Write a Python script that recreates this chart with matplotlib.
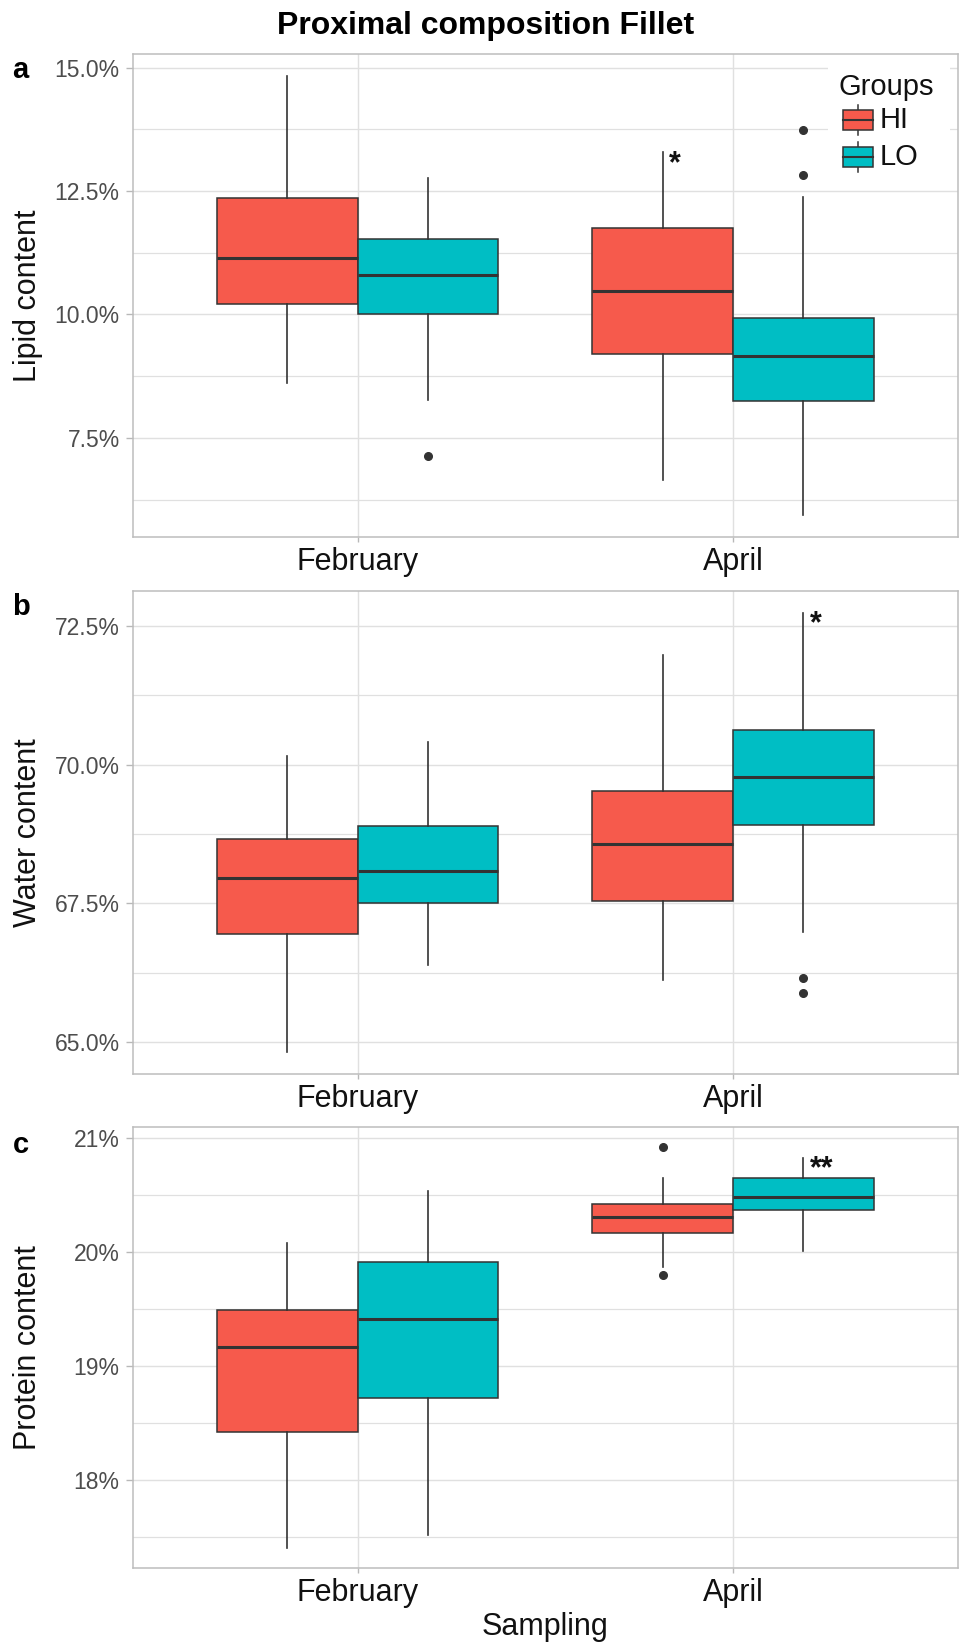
import matplotlib
matplotlib.use("Agg")
import matplotlib.pyplot as plt
from matplotlib.patches import Rectangle
from matplotlib.lines import Line2D
from matplotlib.ticker import MultipleLocator, PercentFormatter

plt.rcParams['font.family'] = ['Liberation Sans', 'DejaVu Sans']

# ---- data -------------------------------------------------------------
months = ["February", "April"]
groups = ["HI", "LO"]
group_colors = ["#F65A4C", "#00BEC4"]

# order of boxes: February-HI, February-LO, April-HI, April-LO
lipid_whislo = [8.62, 8.27, 6.64, 5.93]
lipid_q1 = [10.21, 10.00, 9.19, 8.25]
lipid_med = [11.14, 10.79, 10.48, 9.15]
lipid_q3 = [12.35, 11.52, 11.75, 9.93]
lipid_whishi = [14.83, 12.77, 13.28, 12.38]
lipid_fliers = [[], [7.14], [], [13.73, 12.82]]
lipid_marks = ["", "", "*", ""]

water_whislo = [64.82, 66.38, 66.12, 66.99]
water_q1 = [66.95, 67.50, 67.55, 68.92]
water_med = [67.95, 68.09, 68.57, 69.78]
water_q3 = [68.66, 68.90, 69.52, 70.63]
water_whishi = [70.15, 70.41, 71.98, 72.74]
water_fliers = [[], [], [], [66.15, 65.89]]
water_marks = ["", "", "", "*"]

protein_whislo = [17.40, 17.52, 19.87, 20.01]
protein_q1 = [18.42, 18.72, 20.17, 20.37]
protein_med = [19.17, 19.415, 20.31, 20.485]
protein_q3 = [19.49, 19.915, 20.42, 20.65]
protein_whishi = [20.08, 20.54, 20.65, 20.83]
protein_fliers = [[], [], [20.92, 19.80], []]
protein_marks = ["", "", "", "**"]

# ---- figure layout (pixel based) --------------------------------------
W, H = 959, 1645
fig = plt.figure(figsize=(W / 100, H / 100), dpi=100)


def fx(x):
    return x / W


def fy(y):
    return 1 - y / H


def add_axes_px(left, top, right, bottom):
    return fig.add_axes([fx(left), fy(bottom), (right - left) / W, (bottom - top) / H])


ax_a = add_axes_px(132.7, 54.0, 958.0, 537.3)
ax_b = add_axes_px(132.7, 590.7, 958.0, 1074.0)
ax_c = add_axes_px(132.7, 1127.3, 958.0, 1568.3)

INK = "#333333"
BOX_W = 0.375


def draw_panel(ax, whislo, q1, med, q3, whishi, fliers, marks, ylabel, step, decimals):
    positions = []
    colors = []
    for m in range(len(months)):
        for g in range(len(groups)):
            positions.append(m + 1 + (g - 0.5) * BOX_W)
            colors.append(group_colors[g])
    stats = []
    for i in range(len(positions)):
        stats.append(dict(whislo=whislo[i], q1=q1[i], med=med[i], q3=q3[i],
                          whishi=whishi[i], fliers=fliers[i]))
    bp = ax.bxp(stats, positions=positions, widths=BOX_W, patch_artist=True,
                showcaps=False, manage_ticks=False,
                boxprops=dict(edgecolor=INK, linewidth=1.1),
                whiskerprops=dict(color=INK, linewidth=1.2),
                medianprops=dict(color=INK, linewidth=2.2),
                flierprops=dict(marker='o', markerfacecolor=INK, markeredgecolor=INK,
                                markersize=5.5, linestyle='none'))
    for patch, c in zip(bp['boxes'], colors):
        patch.set_facecolor(c)

    for pos, top, mk in zip(positions, whishi, marks):
        if mk:
            ax.annotate(mk, xy=(pos, top), xytext=(4.5, 2.2), textcoords='offset points',
                        ha='left', va='top', fontsize=22, fontweight='bold', color='#111111')

    lo = min(min(whislo), min([min(f) for f in fliers if f] or [min(whislo)]))
    hi = max(max(whishi), max([max(f) for f in fliers if f] or [max(whishi)]))
    pad = 0.05 * (hi - lo)
    ax.set_ylim(lo - pad, hi + pad)
    ax.set_xlim(0.4, 2.6)

    ax.set_xticks([1, 2])
    ax.set_xticklabels(months)
    ax.yaxis.set_major_locator(MultipleLocator(step))
    ax.yaxis.set_minor_locator(MultipleLocator(step / 2))
    ax.yaxis.set_major_formatter(PercentFormatter(xmax=100, decimals=decimals))

    ax.set_axisbelow(True)
    ax.grid(which='major', color='#E0E0E0', linewidth=1.0)
    ax.grid(which='minor', axis='y', color='#E0E0E0', linewidth=0.9)

    ax.tick_params(axis='y', which='major', length=4.8, width=1.0, color='#B8B8B8',
                   pad=4.6, labelsize=16.5, labelcolor='#4D4D4D')
    ax.tick_params(axis='x', which='major', length=3.5, width=1.0, color='#B8B8B8',
                   pad=3.8, labelsize=22, labelcolor='#111111')
    ax.tick_params(which='minor', length=0)
    for s in ax.spines.values():
        s.set_color('#BDBDBD')
        s.set_linewidth(1.1)

    ax.set_ylabel(ylabel, fontsize=22, color='#111111')
    ax.yaxis.set_label_coords(-0.1087, 0.5)


draw_panel(ax_a, lipid_whislo, lipid_q1, lipid_med, lipid_q3, lipid_whishi,
           lipid_fliers, lipid_marks, "Lipid content", 2.5, 1)
draw_panel(ax_b, water_whislo, water_q1, water_med, water_q3, water_whishi,
           water_fliers, water_marks, "Water content", 2.5, 1)
draw_panel(ax_c, protein_whislo, protein_q1, protein_med, protein_q3, protein_whishi,
           protein_fliers, protein_marks, "Protein content", 1, 0)

ax_c.set_xlabel("Sampling", fontsize=22, color='#111111')
ax_c.xaxis.set_label_coords(0.5, -0.099)

# ---- title and panel letters ------------------------------------------
fig.text(fx(486), fy(11), "Proximal composition Fillet", ha='center', va='top',
         fontsize=23, fontweight='bold', color='black')
for letter, base in zip(["a", "b", "c"], [78.3, 615.0, 1153.3]):
    fig.text(fx(12.5), fy(base), letter, ha='left', va='baseline',
             fontsize=21, fontweight='bold', color='black')

# ---- legend (inside panel a, top right) -------------------------------
fig.add_artist(Rectangle((fx(828), fy(180)), (950 - 828) / W, (180 - 60) / H,
                         transform=fig.transFigure, facecolor='white',
                         edgecolor='none', zorder=5))
fig.text(fx(839), fy(73), "Groups", ha='left', va='top', fontsize=21,
         color='#111111', zorder=6)
key_left, key_right = 843.0, 872.7
key_mid = (key_left + key_right) / 2
for grp, col, kt in zip(groups, group_colors, [110.0, 147.0]):
    kb = kt + 20.0
    fig.add_artist(Line2D([fx(key_mid)] * 2, [fy(kt - 5), fy(kb + 5)],
                          transform=fig.transFigure, color=INK, linewidth=1.1, zorder=6))
    fig.add_artist(Rectangle((fx(key_left), fy(kb)), (key_right - key_left) / W, 20.0 / H,
                             transform=fig.transFigure, facecolor=col,
                             edgecolor=INK, linewidth=1.1, zorder=7))
    fig.add_artist(Line2D([fx(key_left), fx(key_right)], [fy(kt + 10)] * 2,
                          transform=fig.transFigure, color=INK, linewidth=1.5, zorder=8))
    fig.text(fx(880), fy(kt + 10), grp, ha='left', va='center', fontsize=21,
             color='#111111', zorder=6)

fig.savefig("out.png", dpi=100)
